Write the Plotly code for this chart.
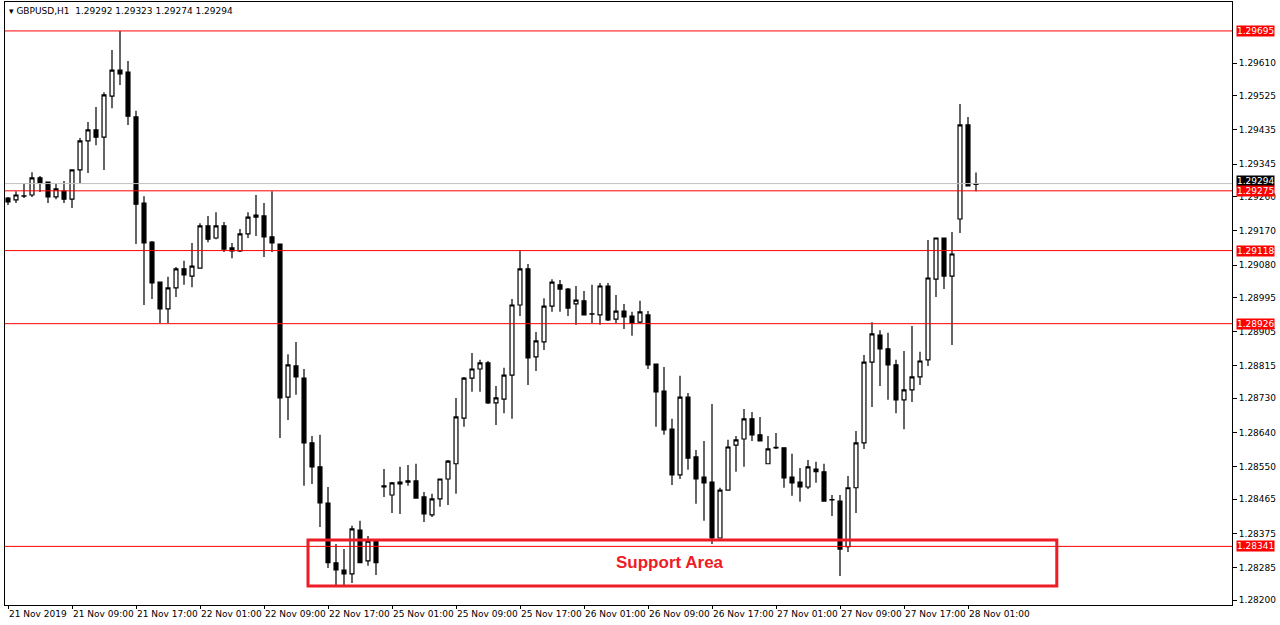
import plotly.graph_objects as go

# GBPUSD H1 candles, 21 Nov 01:00 .. 28 Nov 01:00 (one per hour, weekends skipped)
opens = [1.29256, 1.29251, 1.29261, 1.29264, 1.29309, 1.29298, 1.29259, 1.29274, 1.29253, 1.29330,
         1.29406, 1.29435, 1.29416, 1.29524, 1.29592, 1.29587, 1.29469, 1.29243, 1.29140, 1.29035,
         1.28965, 1.29020, 1.29070, 1.29051, 1.29072, 1.29183, 1.29151, 1.29183, 1.29125, 1.29117,
         1.29162, 1.29206, 1.29209, 1.29154, 1.29135, 1.28733, 1.28815, 1.28783, 1.28613, 1.28550,
         1.28455, 1.28298, 1.28279, 1.28269, 1.28384, 1.28303, 1.28355, 1.28497, 1.28476, 1.28505,
         1.28510, 1.28513, 1.28471, 1.28424, 1.28466, 1.28518, 1.28558, 1.28678, 1.28783, 1.28807,
         1.28823, 1.28718, 1.28728, 1.28791, 1.28975, 1.29070, 1.28839, 1.28878, 1.28972, 1.29028,
         1.29017, 1.28978, 1.28986, 1.28951, 1.28949, 1.29025, 1.28938, 1.28959, 1.28946, 1.28930,
         1.28949, 1.28820, 1.28749, 1.28649, 1.28529, 1.28733, 1.28576, 1.28523, 1.28510, 1.28363,
         1.28489, 1.28607, 1.28623, 1.28676, 1.28634, 1.28558, 1.28600, 1.28600, 1.28523, 1.28510,
         1.28497, 1.28544, 1.28537, 1.28463, 1.28460, 1.28340, 1.28495, 1.28613, 1.28825, 1.28896,
         1.28860, 1.28818, 1.28726, 1.28752, 1.28786, 1.28831, 1.29043, 1.29151, 1.29051, 1.29201,
         1.29448, 1.29292]
highs = [1.29259, 1.29274, 1.29295, 1.29324, 1.29314, 1.29298, 1.29293, 1.29301, 1.29330, 1.29414,
         1.29456, 1.29495, 1.29534, 1.29645, 1.29695, 1.29616, 1.29485, 1.29261, 1.29143, 1.29035,
         1.29049, 1.29075, 1.29091, 1.29138, 1.29190, 1.29209, 1.29219, 1.29193, 1.29138, 1.29175,
         1.29219, 1.29264, 1.29243, 1.29274, 1.29135, 1.28846, 1.28878, 1.28807, 1.28631, 1.28634,
         1.28497, 1.28347, 1.28334, 1.28395, 1.28408, 1.28368, 1.28355, 1.28544, 1.28510, 1.28550,
         1.28555, 1.28558, 1.28484, 1.28479, 1.28518, 1.28568, 1.28731, 1.28786, 1.28849, 1.28831,
         1.28828, 1.28762, 1.28810, 1.28991, 1.29117, 1.29083, 1.28904, 1.28993, 1.29043, 1.29041,
         1.29020, 1.29025, 1.29012, 1.29028, 1.29033, 1.29033, 1.29001, 1.28978, 1.28957, 1.28986,
         1.28959, 1.28820, 1.28812, 1.28676, 1.28789, 1.28744, 1.28594, 1.28618, 1.28715, 1.28495,
         1.28621, 1.28631, 1.28702, 1.28694, 1.28681, 1.28631, 1.28639, 1.28600, 1.28584, 1.28547,
         1.28568, 1.28563, 1.28558, 1.28476, 1.28476, 1.28526, 1.28644, 1.28844, 1.28930, 1.28909,
         1.28902, 1.28831, 1.28854, 1.28920, 1.28852, 1.29146, 1.29151, 1.29151, 1.29167, 1.29503,
         1.29469, 1.29323]
lows = [1.29238, 1.29243, 1.29256, 1.29259, 1.29272, 1.29243, 1.29253, 1.29243, 1.29230, 1.29295,
        1.29322, 1.29395, 1.29330, 1.29492, 1.29553, 1.29448, 1.29135, 1.28975, 1.28991, 1.28928,
        1.28928, 1.28996, 1.29028, 1.29022, 1.29070, 1.29140, 1.29148, 1.29114, 1.29098, 1.29114,
        1.29151, 1.29156, 1.29101, 1.29114, 1.28626, 1.28673, 1.28739, 1.28500, 1.28505, 1.28392,
        1.28284, 1.28235, 1.28235, 1.28245, 1.28298, 1.28290, 1.28266, 1.28471, 1.28429, 1.28426,
        1.28500, 1.28468, 1.28405, 1.28418, 1.28445, 1.28450, 1.28479, 1.28655, 1.28747, 1.28747,
        1.28715, 1.28660, 1.28691, 1.28676, 1.28946, 1.28765, 1.28802, 1.28857, 1.28957, 1.28957,
        1.28946, 1.28923, 1.28949, 1.28928, 1.28923, 1.28933, 1.28928, 1.28912, 1.28894, 1.28928,
        1.28807, 1.28655, 1.28634, 1.28502, 1.28518, 1.28542, 1.28453, 1.28408, 1.28347, 1.28363,
        1.28489, 1.28537, 1.28550, 1.28618, 1.28618, 1.28558, 1.28597, 1.28495, 1.28474, 1.28458,
        1.28492, 1.28508, 1.28458, 1.28421, 1.28263, 1.28326, 1.28429, 1.28597, 1.28707, 1.28762,
        1.28726, 1.28691, 1.28649, 1.28720, 1.28765, 1.28815, 1.28996, 1.29017, 1.28870, 1.29164,
        1.29288, 1.29274]
closes = [1.29246, 1.29264, 1.29262, 1.29309, 1.29295, 1.29259, 1.29280, 1.29253, 1.29330, 1.29406,
          1.29435, 1.29416, 1.29527, 1.29592, 1.29582, 1.29471, 1.29240, 1.29138, 1.29033, 1.28965,
          1.29020, 1.29070, 1.29054, 1.29077, 1.29183, 1.29148, 1.29183, 1.29122, 1.29117, 1.29162,
          1.29206, 1.29211, 1.29154, 1.29138, 1.28731, 1.28818, 1.28786, 1.28613, 1.28550, 1.28455,
          1.28298, 1.28279, 1.28269, 1.28387, 1.28298, 1.28355, 1.28298, 1.28500, 1.28508, 1.28510,
          1.28513, 1.28468, 1.28426, 1.28466, 1.28518, 1.28565, 1.28681, 1.28783, 1.28807, 1.28823,
          1.28718, 1.28731, 1.28791, 1.28975, 1.29070, 1.28836, 1.28881, 1.28972, 1.29035, 1.29017,
          1.28967, 1.28988, 1.28949, 1.28952, 1.29025, 1.28936, 1.28959, 1.28944, 1.28928, 1.28957,
          1.28818, 1.28747, 1.28647, 1.28529, 1.28733, 1.28573, 1.28518, 1.28508, 1.28363, 1.28489,
          1.28602, 1.28621, 1.28676, 1.28634, 1.28618, 1.28597, 1.28601, 1.28521, 1.28508, 1.28497,
          1.28550, 1.28537, 1.28460, 1.28464, 1.28334, 1.28495, 1.28613, 1.28825, 1.28899, 1.28860,
          1.28818, 1.28726, 1.28752, 1.28786, 1.28828, 1.29046, 1.29151, 1.29051, 1.29109, 1.29448,
          1.29288, 1.29294]

date_labels = ["21 Nov 2019", "21 Nov 09:00", "21 Nov 17:00", "22 Nov 01:00", "22 Nov 09:00",
               "22 Nov 17:00", "25 Nov 01:00", "25 Nov 09:00", "25 Nov 17:00", "26 Nov 01:00",
               "26 Nov 09:00", "26 Nov 17:00", "27 Nov 01:00", "27 Nov 09:00", "27 Nov 17:00",
               "28 Nov 01:00"]
price_ticks = [1.29610, 1.29525, 1.29435, 1.29345, 1.29260, 1.29170, 1.29080, 1.28995, 1.28905,
               1.28815, 1.28730, 1.28640, 1.28550, 1.28465, 1.28375, 1.28285, 1.28200]
levels = [1.29695, 1.29275, 1.29118, 1.28926, 1.28341]
last_price = 1.29294
support_zone = (1.28237, 1.28358)
support_span = (37.5, 131.1)

bars = list(range(len(closes)))
font = "DejaVu Sans"

fig = go.Figure(go.Candlestick(
    x=bars, open=opens, high=highs, low=lows, close=closes,
    increasing=dict(line=dict(color="black", width=1.2), fillcolor="white"),
    decreasing=dict(line=dict(color="black", width=1.2), fillcolor="black"),
    whiskerwidth=0, showlegend=False, hoverinfo="skip"))

shapes = [dict(type="line", xref="paper", x0=0, x1=1, y0=last_price, y1=last_price,
               line=dict(color="#c0c0c0", width=1))]
annotations = []
for lv in levels:
    shapes.append(dict(type="line", xref="paper", x0=0, x1=1, y0=lv, y1=lv,
                       line=dict(color="red", width=1)))
annotations.append(dict(xref="paper", x=1.003, y=last_price + 0.00006, text=f"{last_price:.5f}",
                        showarrow=False, xanchor="left", bgcolor="black",
                        font=dict(color="white", size=9, family=font), borderpad=0))
for lv in levels:
    annotations.append(dict(xref="paper", x=1.003, y=lv, text=f"{lv:.5f}", showarrow=False,
                            xanchor="left", bgcolor="red",
                            font=dict(color="white", size=9, family=font), borderpad=0))

shapes.append(dict(type="rect", x0=support_span[0], x1=support_span[1],
                   y0=support_zone[0], y1=support_zone[1],
                   line=dict(color="#ee1c25", width=3)))
annotations.append(dict(x=(support_span[0] + support_span[1]) / 2 - 1.5, y=sum(support_zone) / 2,
                        text="<b>Support Area</b>", showarrow=False,
                        font=dict(color="#ee1c25", size=17, family="Liberation Sans")))
annotations.append(dict(xref="paper", yref="paper", x=0.002, y=0.997, xanchor="left", yanchor="top",
                        showarrow=False,
                        text="▾ GBPUSD,H1  1.29292 1.29323 1.29274 1.29294",
                        font=dict(color="black", size=9, family=font)))

fig.update_layout(
    width=1280, height=625, plot_bgcolor="white", paper_bgcolor="white",
    margin=dict(l=5, r=48, t=2, b=20),
    shapes=shapes, annotations=annotations,
    xaxis=dict(range=[-0.375, 153], rangeslider=dict(visible=False), automargin=False,
               tickvals=bars[::8], ticktext=date_labels, ticks="outside", ticklen=3,
               ticklabelposition="outside right", tickangle=0,
               tickcolor="black", showgrid=False, zeroline=False,
               showline=True, linecolor="black", mirror=True,
               tickfont=dict(size=9, family=font, color="black")),
    yaxis=dict(range=[1.28187, 1.29771], side="right", tickvals=price_ticks, automargin=False,
               ticktext=[f"{t:.5f}" for t in price_ticks], ticks="outside", ticklen=4,
               tickcolor="black", showgrid=False, zeroline=False,
               showline=True, linecolor="black", mirror=True,
               tickfont=dict(size=9, family=font, color="black")),
)

fig.write_html("out.html", config={"displayModeBar": False},
               post_script="document.body.style.margin='0';")
